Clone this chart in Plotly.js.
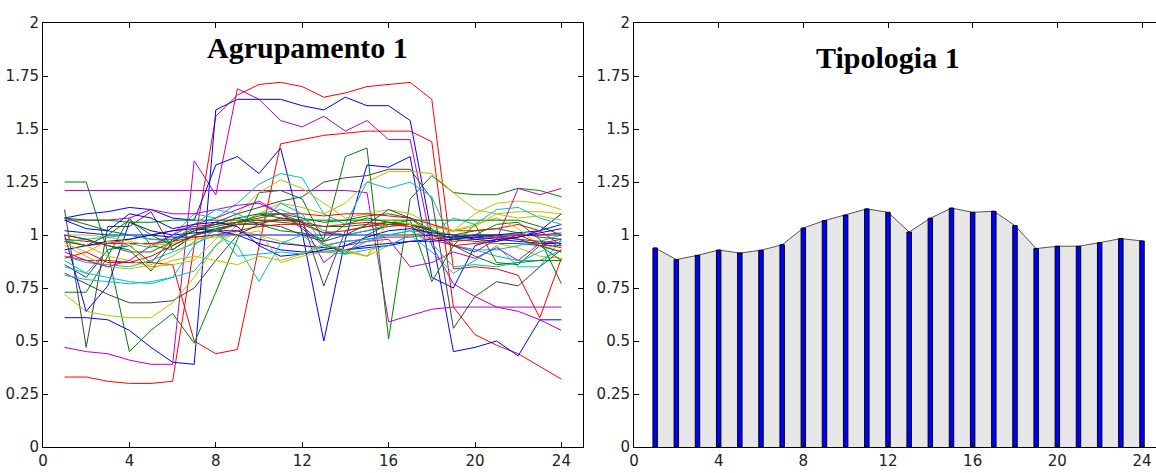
<!DOCTYPE html>
<html>
<head>
<meta charset="utf-8">
<script src="https://cdn.plot.ly/plotly-3.0.1.min.js"></script>
<style>html,body{margin:0;padding:0;background:#fff;}#chart{width:1156px;height:473px;}</style>
</head>
<body>
<div id="chart"></div>
<script>
// ---- data ----
const hours = [1,2,3,4,5,6,7,8,9,10,11,12,13,14,15,16,17,18,19,20,21,22,23,24];
const xTicks = [0,4,8,12,16,20,24];
const yTicks = [0,0.25,0.5,0.75,1,1.25,1.5,1.75,2];
const yTickText = ["0","0.25","0.5","0.75","1","1.25","1.5","1.75","2"];

const titleLeft = "Agrupamento 1";
const titleRight = "Tipologia 1";

// Individual profiles (Agrupamento 1)
const s01 = [0.33,0.33,0.31,0.30,0.30,0.31,0.95,1.56,1.66,1.71,1.72,1.70,1.65,1.67,1.70,1.71,1.72,1.64,0.84,0.85,0.84,0.81,0.61,0.89];
const s02 = [0.90,0.88,0.88,0.87,0.87,0.86,0.50,0.44,0.46,0.95,1.43,1.45,1.47,1.48,1.49,1.49,1.49,1.44,0.66,0.53,0.48,0.44,0.38,0.32];
const s03 = [0.61,0.61,0.60,0.55,0.47,0.40,0.39,1.59,1.64,1.64,1.64,1.61,1.59,1.65,1.61,1.61,1.54,1.00,0.45,0.47,0.50,0.43,0.60,0.60];
const s04 = [0.47,0.45,0.44,0.41,0.39,0.39,1.35,1.19,1.69,1.64,1.54,1.51,1.56,1.49,1.54,1.45,1.45,0.95,0.77,0.71,0.66,0.64,0.60,0.55];
const s05 = [1.21,1.21,1.21,1.21,1.21,1.21,1.21,1.21,1.21,1.21,1.21,1.21,1.21,1.21,1.20,0.59,0.62,0.65,0.66,0.66,0.66,0.66,0.66,0.66];
const s06 = [1.08,1.10,1.11,1.13,1.12,1.08,1.07,1.33,1.37,1.29,1.41,1.01,0.50,0.98,1.33,1.32,1.37,0.80,0.75,0.95,0.98,0.99,1.02,1.10];
const s07 = [1.25,1.25,0.92,0.45,0.55,0.63,0.49,0.73,0.98,1.20,1.21,1.17,0.97,1.05,1.08,1.06,1.05,1.02,1.00,1.02,1.03,1.01,0.99,0.98];
const s08 = [0.73,0.73,0.90,1.08,0.95,0.93,1.00,1.03,1.05,1.05,1.02,1.01,0.98,1.37,1.41,0.51,1.17,1.28,1.20,1.19,1.19,1.22,1.21,1.18];
const s09 = [1.12,0.47,1.04,1.04,1.11,0.93,1.00,1.03,1.05,1.10,1.08,1.06,1.01,1.00,1.02,1.04,1.05,1.02,1.00,1.00,0.99,0.98,0.97,0.96];
const s10 = [0.82,0.77,0.72,0.68,0.68,0.69,0.75,0.88,1.00,1.05,1.08,1.07,0.76,1.02,1.04,1.06,1.05,1.02,0.98,0.97,0.96,0.96,0.95,0.95];
const s11 = [0.72,0.64,0.62,0.61,0.61,0.68,0.80,0.95,1.02,1.00,0.97,0.95,0.93,0.92,0.90,0.95,1.00,1.02,1.00,0.98,0.96,0.94,0.90,0.89];
const s12 = [1.00,0.64,0.76,1.06,1.02,1.00,1.01,1.02,1.02,0.98,0.96,0.95,0.94,0.93,0.95,0.96,0.97,0.98,0.99,0.99,1.00,1.01,1.02,1.05];
const s13 = [0.81,0.79,0.78,0.77,0.78,0.80,0.83,0.95,1.05,1.10,1.12,1.08,1.02,1.00,1.02,1.05,1.04,1.00,0.95,0.93,0.90,0.88,0.88,0.93];
const s14 = [0.86,0.80,0.93,0.95,0.87,0.98,1.02,1.06,1.10,1.13,1.16,1.18,1.25,1.27,1.28,1.31,1.31,1.17,0.56,0.71,0.78,0.76,0.85,0.93];
const s15 = [0.95,0.90,0.85,0.84,0.86,0.90,0.97,1.02,1.05,1.10,1.15,1.13,1.10,1.15,1.25,1.30,1.30,1.29,1.20,1.12,1.10,1.11,1.11,1.10];
const s16 = [0.88,0.82,0.93,0.96,0.94,1.00,1.10,1.08,1.15,1.24,1.29,1.27,1.10,1.05,1.25,1.22,1.25,1.18,0.95,0.93,0.93,0.95,0.97,1.00];
const s17 = [0.98,0.95,0.90,0.88,0.85,0.86,0.88,0.98,1.10,1.20,1.26,1.22,1.15,1.08,1.10,1.12,1.10,1.05,1.02,1.10,1.15,1.16,1.15,1.12];
const s18 = [1.08,1.05,1.02,1.00,0.98,0.98,1.03,1.05,1.08,1.10,1.10,1.08,1.06,1.07,1.09,1.10,1.08,1.02,0.98,1.00,1.05,1.06,0.98,0.77];
const s19 = [1.00,0.98,0.95,0.92,0.92,0.97,1.02,1.04,1.06,1.07,1.06,1.05,1.04,1.04,1.05,1.06,1.05,1.03,0.95,0.90,0.86,0.87,0.88,0.88];
const s20 = [1.07,1.07,1.07,1.08,1.12,1.10,1.10,1.12,1.14,1.15,1.10,1.03,0.95,0.97,0.98,0.99,0.99,1.00,0.95,0.92,0.98,1.22,1.19,1.22];
const s21 = [1.02,1.01,1.00,1.00,1.00,0.99,0.99,1.00,1.00,1.00,1.00,1.00,1.00,1.00,1.00,1.00,1.00,1.00,0.99,1.00,1.00,1.00,1.00,1.00];
const s22 = [0.97,0.95,0.96,0.96,0.96,0.97,0.99,1.00,1.02,1.04,1.05,1.05,1.01,1.02,1.04,1.05,1.05,1.00,0.97,0.98,0.99,1.00,1.00,1.01];
const s23 = [0.98,0.97,0.96,0.98,1.00,1.02,1.04,1.05,1.06,1.08,1.10,1.10,1.09,1.10,1.10,1.09,1.08,1.05,1.02,1.02,1.03,1.05,1.02,0.95];
const s24 = [0.93,0.95,0.97,0.98,1.00,1.02,1.03,1.02,1.00,0.96,0.93,0.92,0.92,0.93,0.94,0.95,0.97,0.97,0.98,0.99,0.98,0.97,0.96,0.96];
const s25 = [0.90,0.87,0.86,0.85,0.88,0.92,0.96,1.00,0.95,0.78,0.96,1.00,0.92,0.91,0.93,0.95,1.00,0.92,0.82,0.88,0.95,0.85,0.85,0.98];
const s26 = [0.92,0.88,0.85,0.88,0.95,1.00,1.05,1.08,1.12,1.16,1.10,1.06,0.87,0.95,0.97,0.98,0.85,0.87,0.92,0.89,0.94,0.88,0.96,0.98];
const s27 = [1.00,1.00,0.99,0.97,0.95,0.96,0.98,0.99,1.00,1.02,0.87,0.90,0.92,0.93,0.90,1.00,1.00,0.98,1.02,1.05,1.08,1.03,0.95,0.92];
const s28 = [1.08,1.07,1.07,1.06,1.06,1.07,1.07,1.07,1.07,1.07,1.07,1.07,1.07,1.07,1.07,1.07,1.07,1.07,1.07,1.07,1.07,1.07,1.04,1.00];
const s29 = [0.97,0.98,0.99,1.00,0.98,0.97,1.05,1.12,1.10,1.05,1.15,1.10,0.95,0.92,0.97,1.00,1.02,1.01,1.08,1.05,1.12,1.13,1.08,1.05];
const s30 = [0.89,0.92,0.87,0.87,0.90,0.95,1.00,1.02,1.05,1.06,1.07,1.06,1.04,1.05,1.06,1.05,1.04,0.98,0.95,0.96,0.97,1.00,0.96,0.94];
const s31 = [1.00,0.98,0.95,0.93,0.83,0.97,1.02,1.05,1.08,1.05,1.04,1.00,0.97,1.00,1.05,1.12,1.08,1.00,0.99,1.00,1.00,0.98,0.95,0.92];
const s32 = [1.07,1.03,1.02,1.10,1.08,1.03,1.05,1.06,1.04,0.95,0.90,0.91,0.93,0.95,0.99,1.02,1.03,1.01,1.00,0.98,0.97,0.99,1.01,1.03];
const s33 = [0.97,0.95,1.00,1.07,1.00,0.95,1.00,1.02,1.06,1.09,1.10,1.04,0.96,0.91,1.00,1.05,1.07,0.78,0.95,1.05,0.87,0.86,0.95,0.88];
const s34 = [0.85,0.82,0.80,0.78,0.77,0.80,0.95,1.03,0.90,0.91,0.92,0.91,0.95,0.97,0.98,1.00,1.02,0.96,0.85,0.86,0.85,0.87,0.92,0.97];
const s35 = [0.96,0.92,0.97,0.96,0.84,0.88,0.90,0.88,0.86,0.90,0.88,0.91,0.96,0.93,0.90,1.07,1.05,1.04,1.02,1.04,1.10,1.08,1.09,1.07];

const profiles = [
  {y: s01, c: "red"}, {y: s02, c: "red"}, {y: s03, c: "blue"}, {y: s04, c: "magenta"},
  {y: s05, c: "magenta"}, {y: s06, c: "blue"}, {y: s07, c: "green"}, {y: s08, c: "green"},
  {y: s09, c: "gray"}, {y: s10, c: "gray"}, {y: s11, c: "olive"}, {y: s12, c: "blue"},
  {y: s13, c: "cyan"}, {y: s14, c: "gray"}, {y: s15, c: "olive"}, {y: s16, c: "cyan"},
  {y: s17, c: "olive"}, {y: s18, c: "green"}, {y: s19, c: "green"}, {y: s20, c: "magenta"},
  {y: s21, c: "blue"}, {y: s22, c: "red"}, {y: s23, c: "red"}, {y: s24, c: "blue"},
  {y: s25, c: "cyan"}, {y: s26, c: "magenta"}, {y: s27, c: "olive"}, {y: s28, c: "green"},
  {y: s29, c: "cyan"}, {y: s30, c: "red"}, {y: s31, c: "gray"}, {y: s32, c: "blue"},
  {y: s33, c: "green"}, {y: s34, c: "cyan"}, {y: s35, c: "olive"}
];

// Typology (Tipologia 1)
const typology = [0.939,0.884,0.904,0.929,0.915,0.928,0.954,1.033,1.068,1.094,1.123,1.107,1.014,1.079,1.127,1.107,1.112,1.044,0.936,0.947,0.947,0.964,0.983,0.972];

// ---- styling ----
const palette = {
  blue: "#0000ff", green: "#008000", red: "#ff0000", cyan: "#00bfbf",
  magenta: "#bf00bf", olive: "#bfbf00", gray: "#404040"
};

const traces = profiles.map(p => ({
  type: "scatter", mode: "lines", x: hours, y: p.y,
  xaxis: "x", yaxis: "y",
  line: {color: palette[p.c], width: 1},
  hoverinfo: "skip", showlegend: false
}));

traces.push({
  type: "scatter", mode: "lines", x: hours, y: typology,
  xaxis: "x2", yaxis: "y2", fill: "tozeroy",
  fillcolor: "#e6e6e6", line: {color: "#555555", width: 1},
  hoverinfo: "skip", showlegend: false
});
traces.push({
  type: "bar", x: hours, y: typology, width: 0.21,
  xaxis: "x3", yaxis: "y3",
  marker: {color: "#0000ff", line: {color: "#000000", width: 1}},
  hoverinfo: "skip", showlegend: false
});

const tickFont = {family: "DejaVu Sans, sans-serif", size: 15, color: "#222"};
function xax(domain, range, extra) {
  return Object.assign({
    domain: domain, range: range, tickvals: xTicks, ticktext: xTicks.map(String),
    ticks: "inside", ticklen: 5, tickcolor: "#000", showline: true, linecolor: "#000",
    linewidth: 1, mirror: "ticks", showgrid: false, zeroline: false, tickfont: tickFont,
    fixedrange: true
  }, extra || {});
}
function yax(extra) {
  return Object.assign({
    domain: [26/473, 450/473], range: [0, 2], tickvals: yTicks, ticktext: yTickText,
    ticks: "inside", ticklen: 5, tickcolor: "#000", showline: true, linecolor: "#000",
    linewidth: 1, mirror: "ticks", showgrid: false, zeroline: false, tickfont: tickFont,
    fixedrange: true
  }, extra || {});
}

// left panel: x 0..25 spans px 43..583
const leftDom = [43/1156, 583/1156];
const leftRange = [0, 25];
// right panel: 0 at px 634, 24 at px 1142; panel cut at the page edge
const rightUnit = (1142 - 634) / 24;
const rightDom = [634/1156, 1];
const rightRange = [0, (1156 - 634) / rightUnit];

const layout = {
  width: 1156, height: 473,
  margin: {l: 0, r: 0, t: 0, b: 0},
  paper_bgcolor: "#ffffff", plot_bgcolor: "rgba(0,0,0,0)",
  showlegend: false, bargap: 0,
  xaxis: xax(leftDom, leftRange, {anchor: "y"}),
  yaxis: yax({anchor: "x"}),
  xaxis2: xax(rightDom, rightRange, {anchor: "y2"}),
  yaxis2: yax({anchor: "x2", mirror: false}),
  xaxis3: xax(rightDom, rightRange, {anchor: "y3", overlaying: "x2", visible: false}),
  yaxis3: yax({anchor: "x3", overlaying: "y2", visible: false}),
  annotations: [
    {text: "<b>" + titleLeft + "</b>", xref: "paper", yref: "paper", x: 307/1156, y: (473-47)/473,
     xanchor: "center", yanchor: "middle", showarrow: false,
     font: {family: "Liberation Serif, serif", size: 30, color: "#000"}},
    {text: "<b>" + titleRight + "</b>", xref: "paper", yref: "paper", x: 888/1156, y: (473-57)/473,
     xanchor: "center", yanchor: "middle", showarrow: false,
     font: {family: "Liberation Serif, serif", size: 30, color: "#000"}}
  ]
};

Plotly.newPlot("chart", traces, layout, {staticPlot: true, displayModeBar: false});
</script>
</body>
</html>
